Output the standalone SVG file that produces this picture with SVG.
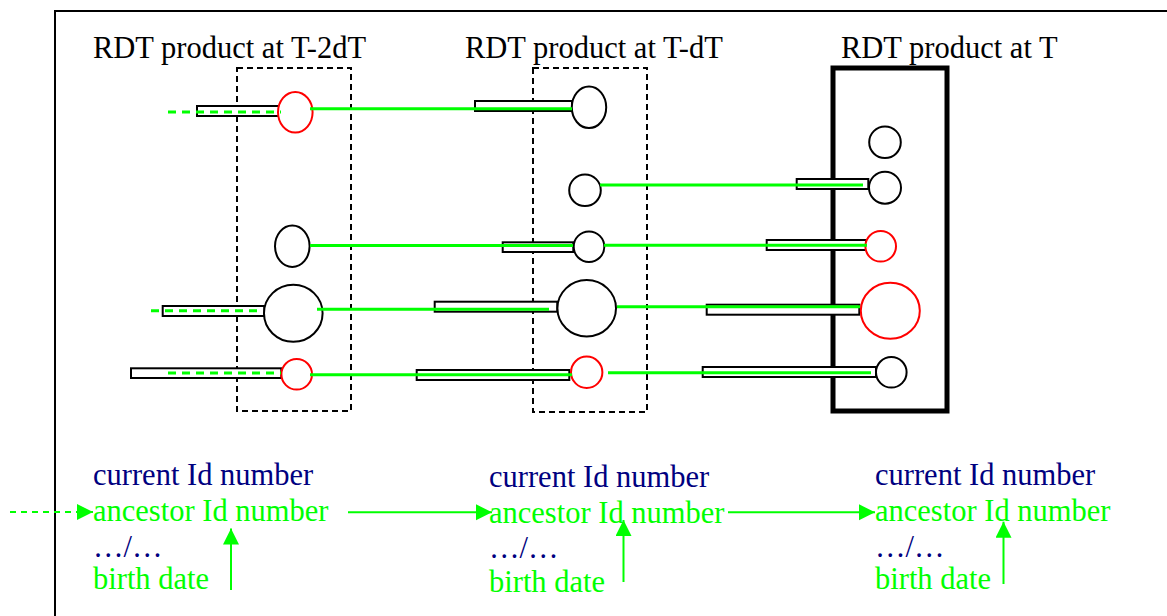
<svg xmlns="http://www.w3.org/2000/svg" width="1167" height="616" viewBox="0 0 1167 616">
<style>
.t{font-family:"Liberation Serif","Times New Roman",serif;font-size:30.5px}
.k{fill:#000}
.nv{fill:#000080}
.gr{fill:#00ff00}
.bar{fill:#fff;stroke:#000;stroke-width:2}
.ob{fill:#fff;stroke:#000;stroke-width:2}
.or{fill:#fff;stroke:#ff0000;stroke-width:2}
.dbox{fill:none;stroke:#000;stroke-width:2;stroke-dasharray:6 4}
.tbox{fill:none;stroke:#000;stroke-width:5}
.gl{stroke:#00ff00;stroke-width:3;fill:none}
.gd{stroke:#00ff00;stroke-width:3;fill:none;stroke-dasharray:8 6}
.ga{stroke:#00ff00;stroke-width:2;fill:none}
</style>
<defs>
<marker id="ah" markerUnits="userSpaceOnUse" markerWidth="18" markerHeight="18" refX="16" refY="8" orient="auto">
<path d="M0,0 L16,8 L0,16 z" fill="#00ff00"/>
</marker>
</defs>
<rect width="1167" height="616" fill="#fff"/>
<path d="M55,620 V11 H1170" fill="none" stroke="#000" stroke-width="2"/>

<g id="product-T-2dT">
<text class="t k" x="93" y="58">RDT product at T-2dT</text>
<rect class="dbox" x="237" y="68" width="114" height="343"/>
</g>
<g id="product-T-dT">
<text class="t k" x="465" y="58">RDT product at T-dT</text>
<rect class="dbox" x="533" y="68" width="114" height="344"/>
</g>
<g id="product-T">
<text class="t k" x="841" y="58">RDT product at T</text>
<rect class="tbox" x="833" y="68" width="114" height="343"/>
</g>

<g id="a1"><rect class="bar" x="197" y="106" width="82" height="10"/><ellipse class="or" cx="295.3" cy="112.3" rx="17.3" ry="20.3"/></g>
<g id="a3"><ellipse class="ob" cx="292.3" cy="246.3" rx="17.3" ry="20.7"/></g>
<g id="a4"><rect class="bar" x="162.7" y="306" width="101.6" height="10"/><ellipse class="ob" cx="293.3" cy="313.3" rx="29.3" ry="28.5"/></g>
<g id="a5"><rect class="bar" x="131" y="368.3" width="150.3" height="9.7"/><circle class="or" cx="296.7" cy="374.3" r="15.3"/></g>

<g id="b1"><rect class="bar" x="475" y="101" width="97" height="10"/><ellipse class="ob" cx="589" cy="107.3" rx="17.2" ry="20.8"/></g>
<g id="b2"><circle class="ob" cx="585" cy="190.3" r="15.8"/></g>
<g id="b3"><rect class="bar" x="502.7" y="242.3" width="70.6" height="9.7"/><circle class="ob" cx="589" cy="246.7" r="15.3"/></g>
<g id="b4"><rect class="bar" x="434.7" y="301.7" width="122.6" height="10"/><ellipse class="ob" cx="586.7" cy="308.3" rx="29.3" ry="28.2"/></g>
<g id="b5"><rect class="bar" x="416.7" y="370" width="152.6" height="10"/><circle class="or" cx="586.7" cy="372.3" r="15.7"/></g>

<g id="c0"><circle class="ob" cx="885" cy="142.3" r="15.8"/></g>
<g id="c2"><rect class="bar" x="796.7" y="179" width="71.6" height="10"/><circle class="ob" cx="885" cy="187.7" r="16"/></g>
<g id="c3"><rect class="bar" x="766.7" y="240" width="99.3" height="10"/><circle class="or" cx="880.7" cy="246.3" r="15.3"/></g>
<g id="c4"><rect class="bar" x="706.7" y="304.7" width="152.6" height="10"/><ellipse class="or" cx="890.3" cy="310.7" rx="29.5" ry="28"/></g>
<g id="c5"><rect class="bar" x="702.7" y="367" width="173.3" height="10"/><circle class="ob" cx="891.3" cy="372.3" r="15.3"/></g>

<g id="record-1">
<text class="t nv" x="93" y="485">current Id number</text>
<text class="t gr" x="93" y="521">ancestor Id number</text>
<text class="t nv" x="93" y="557">…/…</text>
<text class="t gr" x="93" y="589">birth date</text>
</g>
<g id="record-2">
<text class="t nv" x="489" y="487">current Id number</text>
<text class="t gr" x="489" y="523">ancestor Id number</text>
<text class="t nv" x="489" y="558">…/…</text>
<text class="t gr" x="489" y="592">birth date</text>
</g>
<g id="record-3">
<text class="t nv" x="875" y="485">current Id number</text>
<text class="t gr" x="875" y="521">ancestor Id number</text>
<text class="t nv" x="875" y="557">…/…</text>
<text class="t gr" x="875" y="589">birth date</text>
</g>

<g id="connectors">
<line class="gd" x1="168" y1="112" x2="281" y2="112"/>
<line class="gl" x1="310" y1="108.7" x2="572" y2="108.7"/>
<line class="gl" x1="600" y1="185" x2="863" y2="185"/>
<line class="gl" x1="310" y1="245.5" x2="573" y2="245.5"/>
<line class="gl" x1="604" y1="245.3" x2="867" y2="245.3"/>
<line class="gd" x1="151" y1="310.7" x2="263" y2="310.7"/>
<line class="gl" x1="317" y1="309.2" x2="549" y2="309.2"/>
<line class="gl" x1="617" y1="306.7" x2="860" y2="306.7"/>
<line class="gd" x1="168" y1="373" x2="281" y2="373"/>
<line class="gl" x1="310" y1="374.7" x2="572" y2="374.7"/>
<line class="gl" x1="608" y1="372.7" x2="871" y2="372.7"/>
<line class="ga" x1="10" y1="512" x2="93" y2="512" stroke-dasharray="6 5" marker-end="url(#ah)"/>
<line class="ga" x1="348" y1="512.3" x2="492" y2="512.3" marker-end="url(#ah)"/>
<line class="ga" x1="728" y1="512.3" x2="875" y2="512.3" marker-end="url(#ah)"/>
<line class="ga" x1="231" y1="590" x2="231" y2="528.5" marker-end="url(#ah)"/>
<line class="ga" x1="623.5" y1="582" x2="623.5" y2="520" marker-end="url(#ah)"/>
<line class="ga" x1="1003.5" y1="584" x2="1003.5" y2="521.7" marker-end="url(#ah)"/>
</g>
</svg>
